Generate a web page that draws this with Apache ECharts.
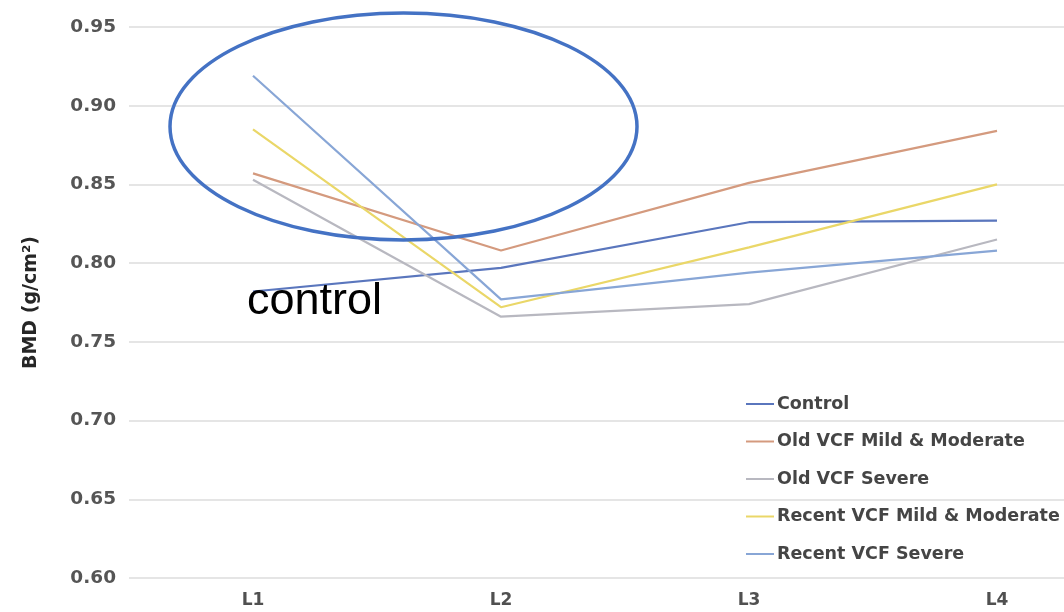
<!DOCTYPE html>
<html>
<head>
<meta charset="utf-8">
<script src="https://cdn.jsdelivr.net/npm/echarts@6/dist/echarts.min.js"></script>
<style>html,body{margin:0;padding:0;background:#fff;overflow:hidden}#c{width:1125px;height:612px}</style>
</head>
<body>
<div id="c"></div>
<script>
var categories = ['L1', 'L2', 'L3', 'L4'];
var seriesNames = ['Control', 'Old VCF Mild & Moderate', 'Old VCF Severe', 'Recent VCF Mild & Moderate', 'Recent VCF Severe'];
var control = [0.782, 0.797, 0.826, 0.827];
var oldMild = [0.857, 0.808, 0.851, 0.884];
var oldSevere = [0.853, 0.766, 0.774, 0.815];
var recentMild = [0.885, 0.772, 0.810, 0.850];
var recentSevere = [0.919, 0.777, 0.794, 0.808];
var yTicks = [0.60, 0.65, 0.70, 0.75, 0.80, 0.85, 0.90, 0.95];

var colors = ['#5a76bd', '#d49a7e', '#b8b8c0', '#ead768', '#88a6d6'];
var values = [control, oldMild, oldSevere, recentMild, recentSevere];

var chart = echarts.init(document.getElementById('c'));
var font = 'DejaVu Sans';
chart.setOption({
  animation: false,
  backgroundColor: '#ffffff',
  grid: { left: 129, top: 27, right: 4, bottom: 34, containLabel: false },
  legend: {
    orient: 'vertical',
    left: 745,
    top: 395,
    padding: 0,
    itemWidth: 28,
    itemHeight: 14,
    itemGap: 19.5,
    data: seriesNames,
    itemStyle: { opacity: 0 },
    lineStyle: { width: 2 },
    textStyle: { fontFamily: font, fontWeight: 'bold', fontSize: 17.5, color: '#454545', padding: [0, 0, 0, -2] }
  },
  xAxis: {
    type: 'category',
    data: categories,
    boundaryGap: true,
    axisLine: { show: false },
    axisTick: { show: false },
    axisLabel: { fontFamily: font, fontWeight: 'bold', fontSize: 17, color: '#505050', margin: 14 }
  },
  yAxis: {
    type: 'value',
    min: yTicks[0],
    max: yTicks[yTicks.length - 1],
    interval: 0.05,
    name: 'BMD (g/cm²)',
    nameLocation: 'middle',
    nameGap: 88,
    nameRotate: 90,
    nameTextStyle: { fontFamily: font, fontWeight: 'bold', fontSize: 19, color: '#262626' },
    axisLine: { show: false },
    axisTick: { show: false },
    axisLabel: { fontFamily: font, fontWeight: 'bold', fontSize: 18.5, color: '#555555', margin: 13,
      formatter: function (v) { return v.toFixed(2); } },
    splitLine: { lineStyle: { color: '#dcdcdc', width: 1.5 } }
  },
  series: seriesNames.map(function (n, i) {
    return {
      name: n,
      type: 'line',
      data: values[i],
      symbol: 'none',
      lineStyle: { color: colors[i], width: 2.2 },
      itemStyle: { color: colors[i] }
    };
  }),
  graphic: [
    {
      type: 'ellipse',
      shape: { cx: 403.5, cy: 126.5, rx: 233.5, ry: 113.5 },
      style: { fill: 'none', stroke: '#4472c4', lineWidth: 3.5 },
      z: 100
    },
    {
      type: 'text',
      x: 247,
      y: 302,
      style: { text: 'control', font: '45px "Liberation Sans"', fill: '#000000', textVerticalAlign: 'middle', verticalAlign: 'middle' },
      z: 100
    }
  ]
});
</script>
</body>
</html>
